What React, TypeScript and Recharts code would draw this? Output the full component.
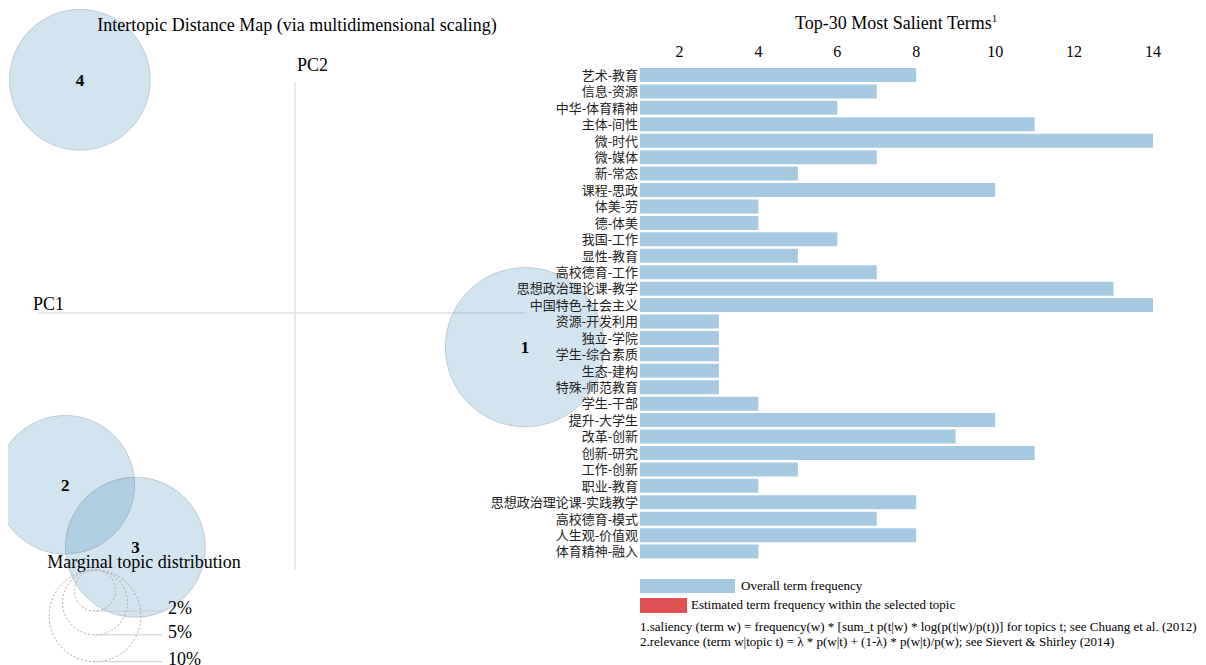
import React from 'react';
import {
  BarChart,
  Bar,
  XAxis,
  YAxis,
  ZAxis,
  ScatterChart,
  Scatter,
  ReferenceLine,
} from 'recharts';

const SERIF = '"Liberation Serif", "Times New Roman", serif';
const CJK = '"Liberation Serif", "Noto Sans CJK SC", serif';

// Top-30 salient terms (top to bottom) and overall frequency
const terms = [
  '艺术-教育', '信息-资源', '中华-体育精神', '主体-间性', '微-时代',
  '微-媒体', '新-常态', '课程-思政', '体美-劳', '德-体美',
  '我国-工作', '显性-教育', '高校德育-工作', '思想政治理论课-教学', '中国特色-社会主义',
  '资源-开发利用', '独立-学院', '学生-综合素质', '生态-建构', '特殊-师范教育',
  '学生-干部', '提升-大学生', '改革-创新', '创新-研究', '工作-创新',
  '职业-教育', '思想政治理论课-实践教学', '高校德育-模式', '人生观-价值观', '体育精神-融入',
];
const termFreq = [
  8, 7, 6, 11, 14,
  7, 5, 10, 4, 4,
  6, 5, 7, 13, 14,
  3, 3, 3, 3, 3,
  4, 10, 9, 11, 5,
  4, 8, 7, 8, 4,
];
const freqTicks = [2, 4, 6, 8, 10, 12, 14];

// Intertopic distance map: topic ids, MDS coords, marginal share (%)
const topicIds = ['1', '2', '3', '4'];
const topicPC1 = [0.236, -0.236, -0.164, -0.221];
const topicPC2 = [-0.035, -0.176, -0.24, 0.239];
const topicShare = [30.2, 22.9, 23.3, 23.6];
const legendShares = [2, 5, 10];

const barData = terms.map((term, i) => ({ term, freq: termFreq[i] }));
const topicData = topicIds.map((id, i) => ({
  id,
  pc1: topicPC1[i],
  pc2: topicPC2[i],
  share: topicShare[i],
}));

// circle area proportional to share
const R_UNIT = 14.5;
const zRange = [0, 100 * Math.PI * R_UNIT * R_UNIT];
const radiusOf = (share: number) => R_UNIT * Math.sqrt(share);

function TopicCircle(props: any) {
  const { cx, cy, payload } = props;
  const r = props.width ? props.width / 2 : Math.sqrt((props.size || 0) / Math.PI);
  return (
    <g>
      <circle
        cx={cx}
        cy={cy}
        r={r}
        fill="#1f77b4"
        fillOpacity={0.2}
        stroke="#000"
        strokeOpacity={0.15}
      />
      <text
        x={cx}
        y={cy}
        dy={6}
        textAnchor="middle"
        fontFamily={SERIF}
        fontSize={17}
        fontWeight="bold"
        fill="#000"
      >
        {payload.id}
      </text>
    </g>
  );
}

export default function App() {
  const legendTop = 570;
  const legendCx = 95;

  return (
    <div style={{ position: 'absolute', left: 0, top: 0, width: 1206, height: 665, background: '#fff' }}>
      {/* intertopic map */}
      <div style={{ position: 'absolute', left: 8, top: 0 }}>
        <ScatterChart width={612} height={665} margin={{ top: 79, right: 95, bottom: 95, left: 30 }}>
          <XAxis type="number" dataKey="pc1" domain={[-0.264, 0.236]} hide />
          <YAxis type="number" dataKey="pc2" domain={[-0.2633, 0.2398]} hide />
          <ZAxis type="number" dataKey="share" domain={[0, 100]} range={zRange} />
          <ReferenceLine y={0} stroke="#e2e2e2" strokeWidth={1.5} />
          <ReferenceLine
            segment={[{ x: 0, y: -0.2633 }, { x: 0, y: 0.2367 }]}
            stroke="#e2e2e2"
            strokeWidth={1.5}
          />
          <Scatter data={topicData} shape={<TopicCircle />} isAnimationActive={false} />
        </ScatterChart>
      </div>

      {/* salient terms bars */}
      <div style={{ position: 'absolute', left: 440, top: 0 }}>
        <BarChart
          layout="vertical"
          width={766}
          height={665}
          data={barData}
          margin={{ top: 37, right: 53, bottom: 105, left: 0 }}
        >
          <XAxis
            type="number"
            orientation="top"
            domain={[1, 14]}
            ticks={freqTicks}
            axisLine={false}
            tickLine={false}
            tickSize={0}
            tickMargin={10}
            height={30}
            tick={{ fill: '#000', fontSize: 16, fontFamily: SERIF }}
          />
          <YAxis
            type="category"
            dataKey="term"
            width={200}
            axisLine={false}
            tickLine={false}
            tickSize={0}
            tickMargin={2}
            interval={0}
            tick={{ fill: '#222', fontSize: 13, fontFamily: CJK }}
          />
          <Bar dataKey="freq" fill="#1f77b4" fillOpacity={0.4} barSize={14} isAnimationActive={false} />
        </BarChart>
      </div>

      {/* titles, legends, notes */}
      <svg
        width={1206}
        height={665}
        style={{ position: 'absolute', left: 0, top: 0, pointerEvents: 'none' }}
        fontFamily={SERIF}
      >
        <text x={297} y={31} textAnchor="middle" fontSize={18}>
          Intertopic Distance Map (via multidimensional scaling)
        </text>
        <text x={297} y={71} fontSize={18}>PC2</text>
        <text x={33} y={310} fontSize={18}>PC1</text>

        <text x={795} y={29} fontSize={18}>
          Top-30 Most Salient Terms
          <tspan fontSize={11} dy={-7}>1</tspan>
        </text>

        <text x={144} y={568} textAnchor="middle" fontSize={18}>Marginal topic distribution</text>
        {legendShares.map((s) => {
          const r = radiusOf(s);
          const yb = legendTop + 2 * r;
          return (
            <g key={s}>
              <circle
                cx={legendCx}
                cy={legendTop + r}
                r={r}
                fill="none"
                stroke="#aaa"
                strokeDasharray="2 2"
              />
              <line x1={legendCx} x2={162} y1={yb} y2={yb} stroke="#ccc" />
              <text x={168} y={yb + 3} fontSize={18}>{`${s}%`}</text>
            </g>
          );
        })}

        <rect x={640} y={579} width={95} height={14} fill="#1f77b4" fillOpacity={0.4} />
        <text x={741} y={590} fontSize={13}>Overall term frequency</text>
        <rect x={640} y={598} width={47} height={15} fill="#d62728" fillOpacity={0.8} />
        <text x={691} y={609} fontSize={13}>Estimated term frequency within the selected topic</text>

        <text x={640} y={631} fontSize={13}>
          1.saliency (term w) = frequency(w) * [sum_t p(t|w) * log(p(t|w)/p(t))] for topics t; see Chuang et al. (2012)
        </text>
        <text x={640} y={646} fontSize={13}>
          2.relevance (term w|topic t) = λ * p(w|t) + (1-λ) * p(w|t)/p(w); see Sievert &amp; Shirley (2014)
        </text>
      </svg>
    </div>
  );
}
